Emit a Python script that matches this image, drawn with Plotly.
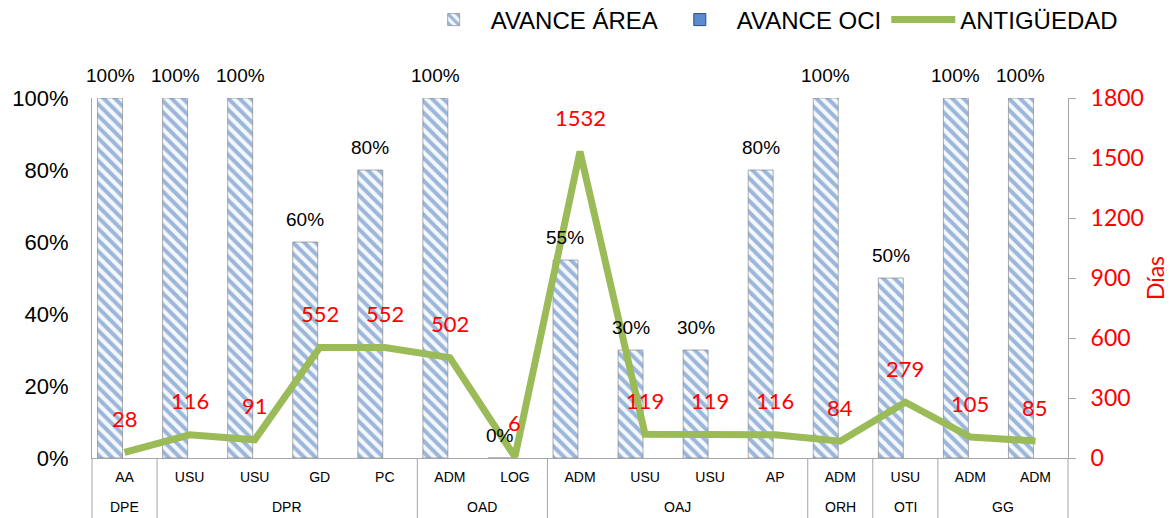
import plotly.graph_objects as go

# ---- data ----
sub_labels = ["AA", "USU", "USU", "GD", "PC", "ADM", "LOG", "ADM", "USU", "USU", "AP", "ADM", "USU", "ADM", "ADM"]
group_names = ["DPE", "DPR", "OAD", "OAJ", "ORH", "OTI", "GG"]
group_sizes = [1, 4, 2, 4, 1, 1, 2]
avance_area = [1.00, 1.00, 1.00, 0.60, 0.80, 1.00, 0.00, 0.55, 0.30, 0.30, 0.80, 1.00, 0.50, 1.00, 1.00]
avance_oci = [None, None, None, None, None, None, None, None, None, None, None, None, None, None, None]
antiguedad = [28, 116, 91, 552, 552, 502, 6, 1532, 119, 119, 116, 84, 279, 105, 85]

x = list(range(len(sub_labels)))
n = len(sub_labels)

BLACK_FONT = "Liberation Sans, Arial, sans-serif"
RED_FONT = "Lato, Noto Sans, sans-serif"
NARROW_FONT = "Liberation Sans Narrow, Liberation Sans, Arial, sans-serif"
GRAY = "#a6a6a6"

bar_w = 0.384
bar_off_area = -0.415
bar_off_oci = 0.031

# page body has an 8px margin, so the figure is 8px smaller than the window
FIG_W, FIG_H = 1167, 510
M_L, M_T, M_R, M_B = 84, 90, 107, 60
plot_h = FIG_H - M_T - M_B

fig = go.Figure()
fig.add_trace(go.Bar(
    x=x, y=avance_area, name="AVANCE ÁREA", width=bar_w, offset=bar_off_area,
    marker=dict(color="#ffffff",
                pattern=dict(shape="\\", fgcolor="#4474b8", bgcolor="#f4f8fd", size=8, solidity=0.5),
                line=dict(color="rgba(110,110,110,0.55)", width=1)),
    hoverinfo="skip"))
fig.add_trace(go.Bar(
    x=x, y=avance_oci, name="AVANCE OCI", width=bar_w, offset=bar_off_oci,
    marker=dict(color="#5b8bd0", line=dict(color="#2c4d75", width=1)),
    hoverinfo="skip"))
fig.add_trace(go.Scatter(
    x=x, y=antiguedad, name="ANTIGÜEDAD", yaxis="y2", mode="lines",
    line=dict(color="#9bbb59", width=7), hoverinfo="skip"))

annotations = []
# bar data labels
bar_center = bar_off_area + bar_w / 2
for i, v in zip(x, avance_area):
    annotations.append(dict(x=i + bar_center, y=v, xref="x", yref="y", yshift=23,
                            text=f"{round(v * 100)}%", showarrow=False, yanchor="middle",
                            font=dict(family=BLACK_FONT, size=19, color="#000000")))
# line data labels
for i, v in zip(x, antiguedad):
    annotations.append(dict(x=i, y=v, xref="x", yref="y2", yshift=34,
                            text=str(v), showarrow=False, yanchor="middle",
                            font=dict(family=RED_FONT, size=22, color="#ff0000")))
# group labels and dividers
shapes = []
start = 0
bounds = [-0.5]
for name, size in zip(group_names, group_sizes):
    annotations.append(dict(x=start + (size - 1) / 2, y=0, xref="x", yref="paper", yshift=-49,
                            text=name, showarrow=False, yanchor="middle",
                            font=dict(family=NARROW_FONT, size=14, color="#000000")))
    start += size
    bounds.append(start - 0.5)
for b in bounds:
    p = (b + 0.5) / n
    shapes.append(dict(type="line", xref="paper", yref="paper", x0=p, x1=p, y0=0, y1=-M_B / plot_h,
                       line=dict(color=GRAY, width=1)))

fig.update_layout(
    width=FIG_W, height=FIG_H,
    margin=dict(l=M_L, r=M_R, t=M_T, b=M_B, autoexpand=False),
    paper_bgcolor="white", plot_bgcolor="white",
    barmode="overlay",
    showlegend=True,
    legend=dict(orientation="h", x=1.056, xanchor="right", itemwidth=64,
                y=1 + 78 / plot_h, yanchor="middle", font=dict(family=BLACK_FONT, size=24, color="#000000"),
                bgcolor="rgba(0,0,0,0)", traceorder="normal"),
    xaxis=dict(range=[-0.5, n - 0.5], tickvals=x, ticktext=sub_labels, showline=True, linecolor=GRAY,
               ticks="", showgrid=False, zeroline=False, ticklabelstandoff=6,
               tickfont=dict(family=NARROW_FONT, size=14, color="#000000")),
    yaxis=dict(range=[0, 1], dtick=0.2, tickformat=".0%", showline=True, linecolor=GRAY,
               ticks="", showgrid=False, zeroline=False, ticklabelstandoff=18,
               tickfont=dict(family=BLACK_FONT, size=22, color="#000000")),
    yaxis2=dict(overlaying="y", side="right", range=[0, 1800], dtick=300, showline=True, linecolor=GRAY,
                ticks="outside", ticklen=7, tickcolor=GRAY, showgrid=False, zeroline=False,
                ticklabelstandoff=10,
                tickfont=dict(family=RED_FONT, size=23, color="#ff0000"),
                title=dict(text="Días", font=dict(family=RED_FONT, size=23, color="#ff0000"), standoff=4)),
    annotations=annotations,
    shapes=shapes,
)

fig.write_html("out.html")
